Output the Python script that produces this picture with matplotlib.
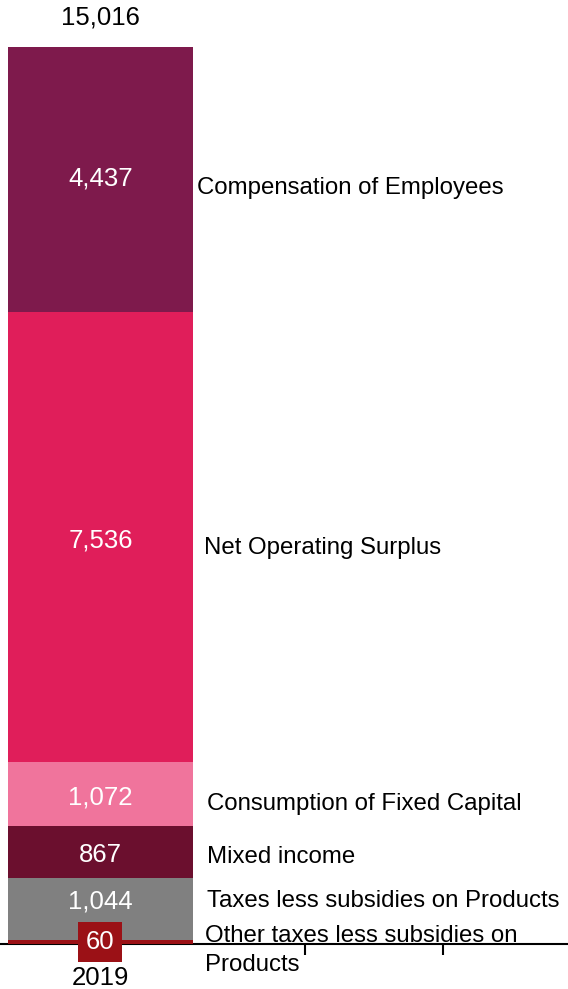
import numpy as np
import matplotlib.pyplot as plt

plt.rcParams['font.family'] = ['Liberation Sans', 'DejaVu Sans']

# data, bottom to top
years = ['2019']
components = ['Other taxes less subsidies on\nProducts',
              'Taxes less subsidies on Products',
              'Mixed income',
              'Consumption of Fixed Capital',
              'Net Operating Surplus',
              'Compensation of Employees']
values = [60, 1044, 867, 1072, 7536, 4437]
colors = ['#9b1116', '#808080', '#6b0f2e', '#f0749c', '#e01e5a', '#7e1a4c']
total = sum(values)

# nudges (pixels) for the labels, relative to the middle of each segment
val_dy = [0, 8, -3, -3, -3, 1]
name_dy = [-8, 8, -5, -10, -11, -8]
name_x = [0.757, 0.772, 0.772, 0.772, 0.75, 0.699]

fig = plt.figure(figsize=[5.68, 9.89], dpi=100)
ax = fig.add_axes([0, 45/989, 1, 897/989])
px = total / 897  # data units per pixel

X = np.arange(len(years))
bottom = 0
for i, (name, val, col) in enumerate(zip(components, values, colors)):
    ax.bar(X, val, bottom=bottom, color=col, width=1.34)
    mid = bottom + val / 2
    if val < 200:
        ax.text(X[0], mid + val_dy[i] * px, f'{val:,}', ha='center', va='center', color='white',
                fontsize=18.5, bbox=dict(facecolor=col, edgecolor='none', pad=5.5))
        ax.text(name_x[i], mid + name_dy[i] * px, name, ha='left', va='center', fontsize=17.3,
                linespacing=1.4)
    else:
        ax.text(X[0], mid + val_dy[i] * px, f'{val:,}', ha='center', va='center', color='white',
                fontsize=18.5)
        ax.text(name_x[i], mid + name_dy[i] * px, name, ha='left', va='center', fontsize=17.3)
    bottom += val

ax.text(X[0], total + 29 * px, f'{total:,}', ha='center', va='center', fontsize=18.5)

ax.set_xlim(-0.728, 3.388)
ax.set_ylim(0, total)
for s in ['top', 'right', 'left']:
    ax.spines[s].set_visible(False)
ax.spines['bottom'].set_linewidth(1.5)
ax.spines['bottom'].set_zorder(0.5)
ax.set_yticks([])
ax.set_xticks(X)
ax.set_xticklabels(years, fontsize=18.5)
ax.tick_params(axis='x', which='major', length=0, pad=16)
ax.set_xticks([1.482, 2.482], minor=True)
ax.tick_params(axis='x', which='minor', length=8, width=1.5, direction='out')

plt.savefig('out.png', dpi=100)
